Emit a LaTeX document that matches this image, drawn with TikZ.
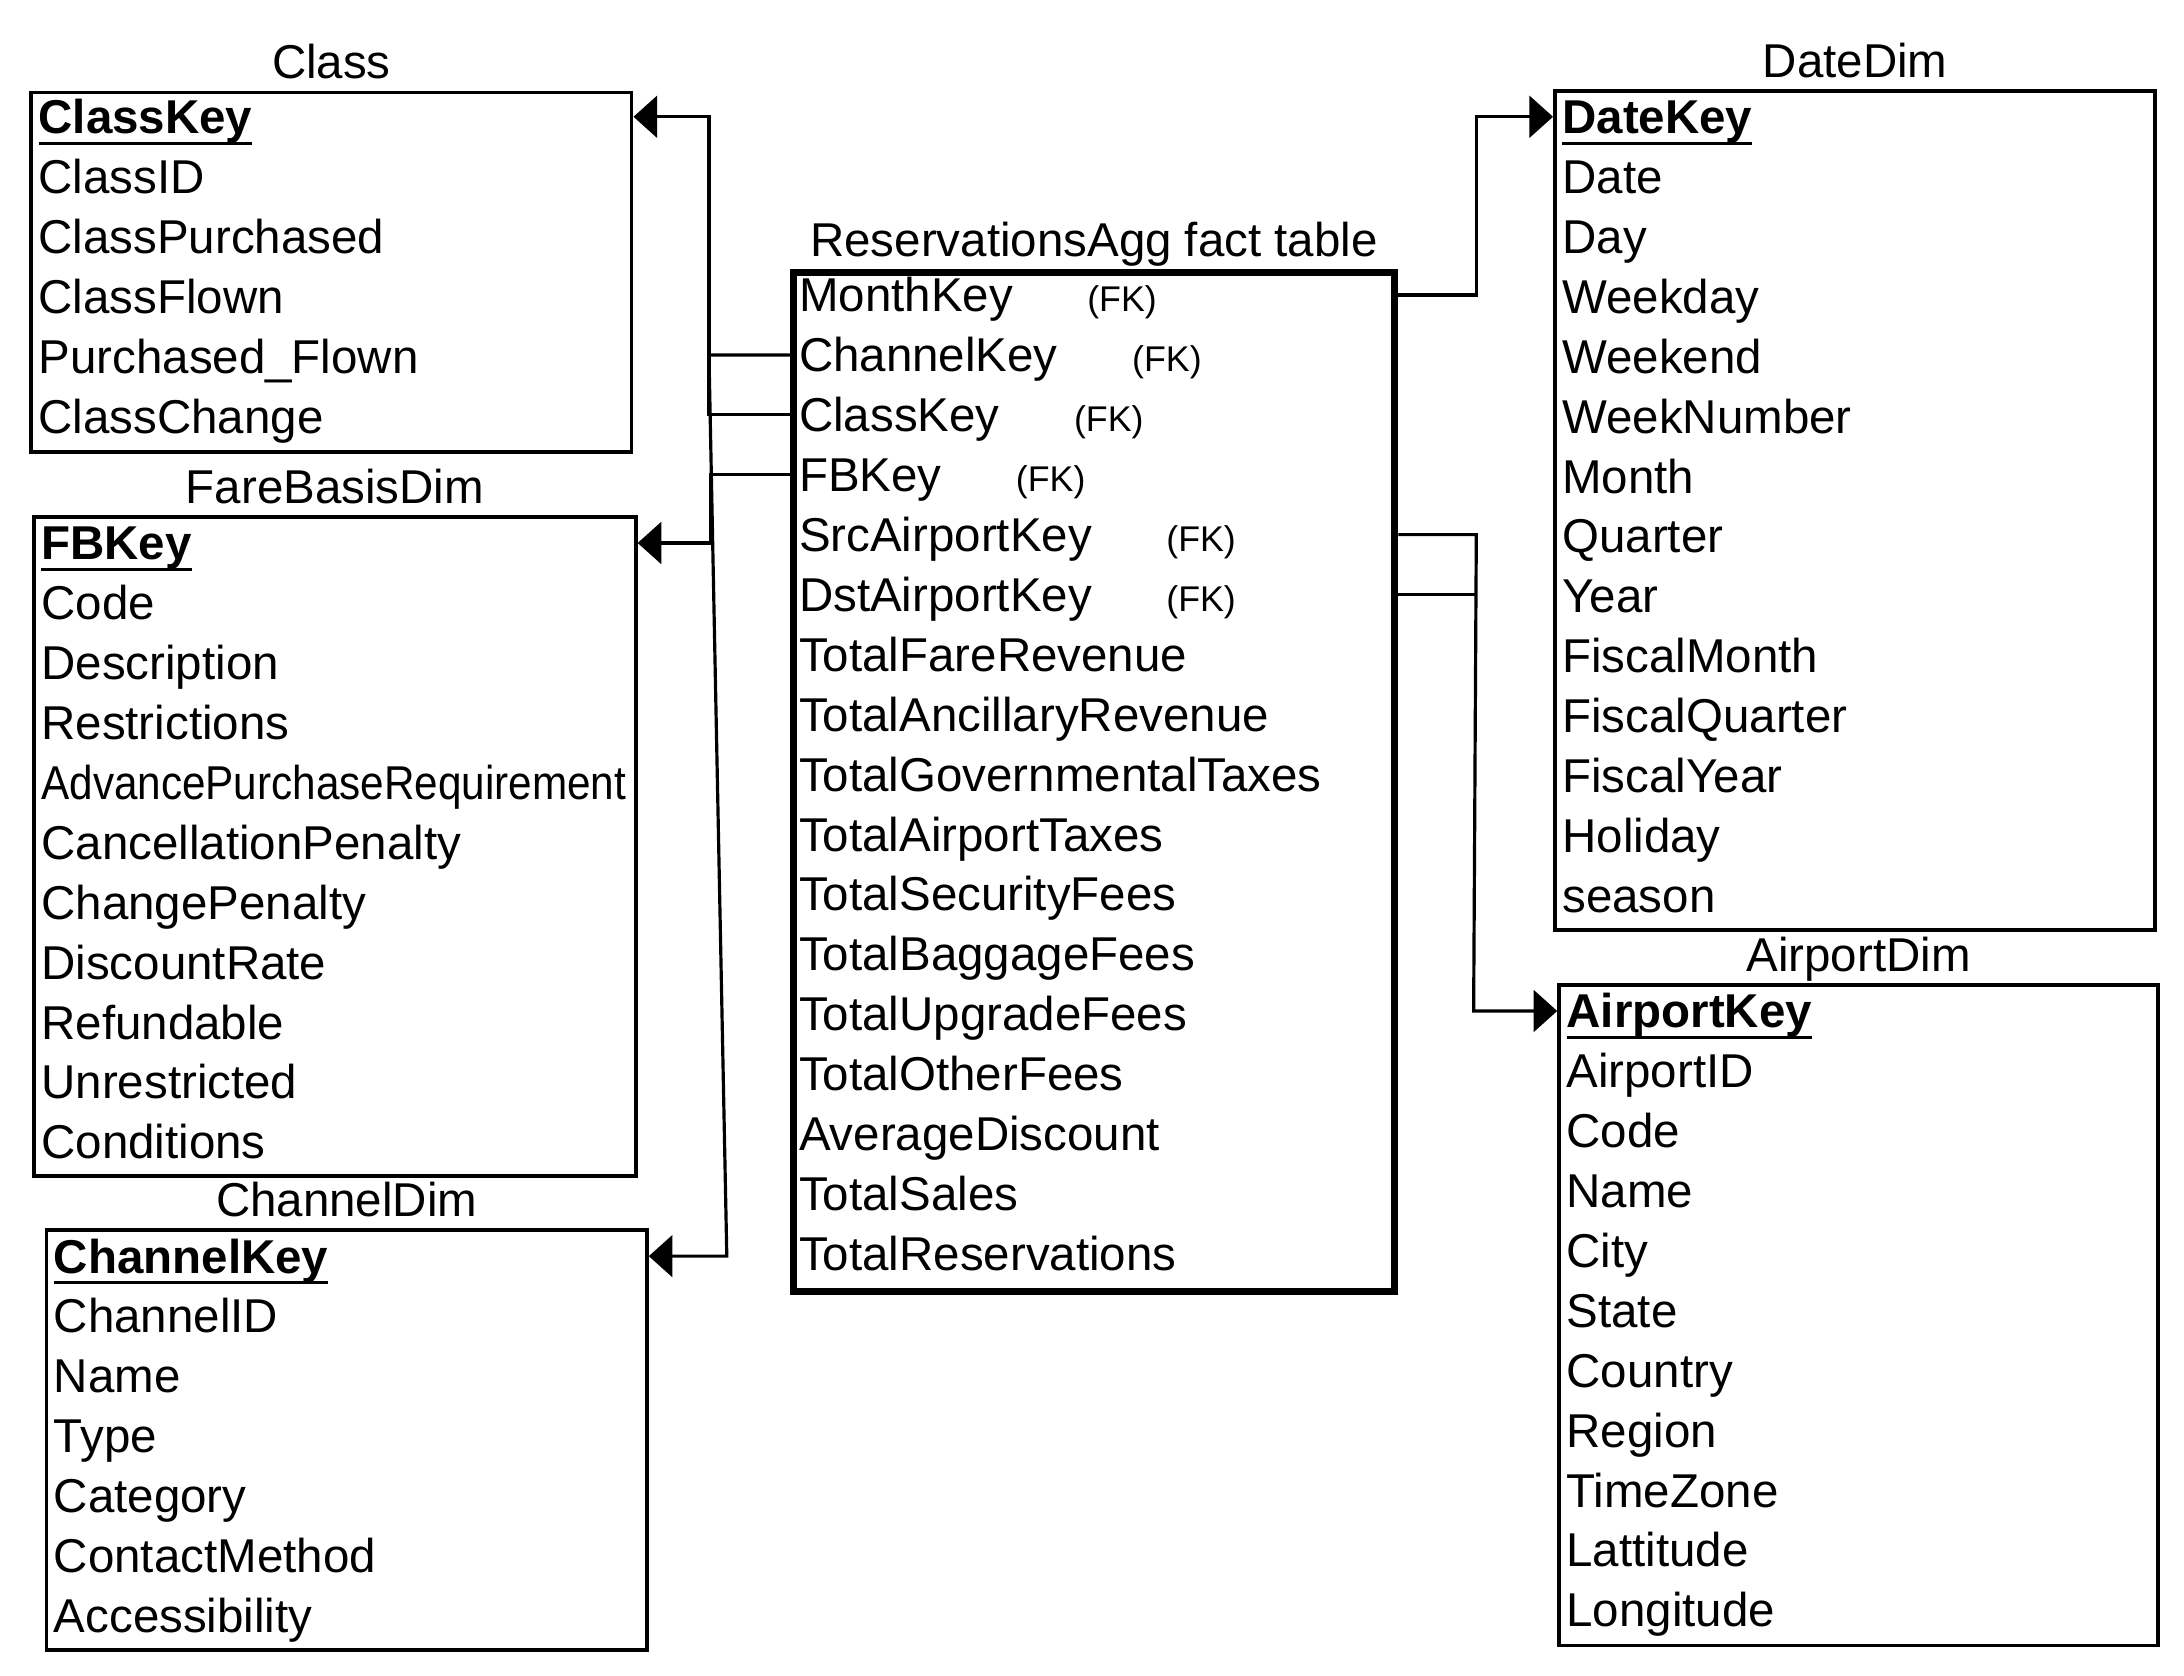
\documentclass[tikz,border=0pt]{standalone}
\usepackage{fontspec}
\setmainfont{Liberation Sans}
\newfontfamily\narrowfont[FakeStretch=0.89]{Liberation Sans}
\usepackage{tikz}
\usetikzlibrary{arrows.meta,calc,positioning}
\newcommand\keyfield[1]{\setbox0\hbox{\textbf{#1}}\rlap{\usebox0}\rule[-.8mm]{\wd0}{.24mm}}

\begin{document}
\begin{tikzpicture}[x=.1mm,y=-.1mm,every node/.append style={font=\fontsize{9.7}{11}\selectfont,
                    inner sep=0},
    tbl/.style={draw,line width=.8pt,anchor=north west},
    row/.style={anchor=base west,text height=2.43mm,text depth=0},
    title/.style={text depth=0},
    fk/.style={font=\fontsize{7.3}{9}\selectfont,anchor=base west},
    link/.style={line width=.65pt},
    tip/.style={-{Triangle[length=1.7mm,width=3mm]}}]
    \useasboundingbox (0,0) rectangle (1568,1203);
    \node[tbl,minimum width=43.1mm,minimum height=25.8mm] (class) at (21,65) {};
    \node[tbl,minimum width=43.2mm,minimum height=47.3mm] (fare) at (23,370) {};
    \node[tbl,minimum width=43.1mm,minimum height=30.1mm] (chan) at (32,882) {};
    \node[tbl,line width=1.4pt,minimum width=43.2mm,minimum height=73.2mm] (fact) at (567,193) {};
    \node[tbl,minimum width=43.1mm,minimum height=60.2mm] (date) at (1115,64) {};
    \node[tbl,minimum width=43.0mm,minimum height=47.4mm] (air) at (1118,706) {};
    \node[title,above=.8mm of class] (class-t) {Class};
    \node[title,above=.8mm of fare] (fare-t) {FareBasisDim};
    \node[title,above=.8mm of chan] (chan-t) {ChannelDim};
    \node[title,above=.8mm of fact] (fact-t) {ReservationsAgg fact table};
    \node[title,above=.8mm of date] (date-t) {DateDim};
    \node[title,above=.8mm of air] (air-t) {AirportDim};
    \node[row] (class-key) at (27,96) {\keyfield{ClassKey}};
    \node[row] (class-id) at (27,139) {ClassID};
    \node[row] (class-pur) at (27,182) {ClassPurchased};
    \node[row] (class-flo) at (27,225) {ClassFlown};
    \node[row] (class-pf) at (27,268) {Purchased\_Flown};
    \node[row] (class-chg) at (27,311) {ClassChange};
    \node[row] (fare-key) at (29,402) {\keyfield{FBKey}};
    \node[row] (fare-code) at (29,445) {Code};
    \node[row] (fare-desc) at (29,488) {Description};
    \node[row] (fare-res) at (29,531) {Restrictions};
    \node[row] (fare-adv) at (29,574) {\narrowfont AdvancePurchaseRequirement};
    \node[row] (fare-can) at (29,617) {CancellationPenalty};
    \node[row] (fare-chg) at (29,660) {ChangePenalty};
    \node[row] (fare-disc) at (29,703) {DiscountRate};
    \node[row] (fare-ref) at (29,746) {Refundable};
    \node[row] (fare-unr) at (29,789) {Unrestricted};
    \node[row] (fare-cond) at (29,832) {Conditions};
    \node[row] (chan-key) at (38,914) {\keyfield{ChannelKey}};
    \node[row] (chan-id) at (38,957) {ChannelID};
    \node[row] (chan-name) at (38,1000) {Name};
    \node[row] (chan-type) at (38,1043) {Type};
    \node[row] (chan-cat) at (38,1086) {Category};
    \node[row] (chan-con) at (38,1129) {ContactMethod};
    \node[row] (chan-acc) at (38,1172) {Accessibility};
    \node[row] (fact-month) at (573,224) {MonthKey};
    \node[row] (fact-chan) at (573,267) {ChannelKey};
    \node[row] (fact-class) at (573,310) {ClassKey};
    \node[row] (fact-fb) at (573,353) {FBKey};
    \node[row] (fact-src) at (573,396) {SrcAirportKey};
    \node[row] (fact-dst) at (573,439) {DstAirportKey};
    \node[row] (fact-fare) at (573,482) {TotalFareRevenue};
    \node[row] (fact-anc) at (573,525) {TotalAncillaryRevenue};
    \node[row] (fact-gov) at (573,568) {TotalGovernmentalTaxes};
    \node[row] (fact-apt) at (573,611) {TotalAirportTaxes};
    \node[row] (fact-sec) at (573,654) {TotalSecurityFees};
    \node[row] (fact-bag) at (573,697) {TotalBaggageFees};
    \node[row] (fact-upg) at (573,740) {TotalUpgradeFees};
    \node[row] (fact-oth) at (573,783) {TotalOtherFees};
    \node[row] (fact-avg) at (573,826) {AverageDiscount};
    \node[row] (fact-sales) at (573,869) {TotalSales};
    \node[row] (fact-res) at (573,912) {TotalReservations};
    \node[fk,right=5.2mm of fact-month.base east,anchor=base west] (fk-month) {(FK)};
    \node[fk,right=5.2mm of fact-chan.base east,anchor=base west] (fk-chan) {(FK)};
    \node[fk,right=5.2mm of fact-class.base east,anchor=base west] (fk-class) {(FK)};
    \node[fk,right=5.2mm of fact-fb.base east,anchor=base west] (fk-fb) {(FK)};
    \node[fk,right=5.2mm of fact-src.base east,anchor=base west] (fk-src) {(FK)};
    \node[fk,right=5.2mm of fact-dst.base east,anchor=base west] (fk-dst) {(FK)};
    \node[row] (date-key) at (1121,96) {\keyfield{DateKey}};
    \node[row] (date-date) at (1121,139) {Date};
    \node[row] (date-day) at (1121,182) {Day};
    \node[row] (date-wday) at (1121,225) {Weekday};
    \node[row] (date-wend) at (1121,268) {Weekend};
    \node[row] (date-wnum) at (1121,311) {WeekNumber};
    \node[row] (date-month) at (1121,354) {Month};
    \node[row] (date-qtr) at (1121,397) {Quarter};
    \node[row] (date-year) at (1121,440) {Year};
    \node[row] (date-fmon) at (1121,483) {FiscalMonth};
    \node[row] (date-fqtr) at (1121,526) {FiscalQuarter};
    \node[row] (date-fyear) at (1121,569) {FiscalYear};
    \node[row] (date-hol) at (1121,612) {Holiday};
    \node[row] (date-sea) at (1121,655) {season};
    \node[row] (air-key) at (1124,738) {\keyfield{AirportKey}};
    \node[row] (air-id) at (1124,781) {AirportID};
    \node[row] (air-code) at (1124,824) {Code};
    \node[row] (air-name) at (1124,867) {Name};
    \node[row] (air-city) at (1124,910) {City};
    \node[row] (air-state) at (1124,953) {State};
    \node[row] (air-cty) at (1124,996) {Country};
    \node[row] (air-reg) at (1124,1039) {Region};
    \node[row] (air-tz) at (1124,1082) {TimeZone};
    \node[row] (air-lat) at (1124,1125) {Lattitude};
    \node[row] (air-lon) at (1124,1168) {Longitude};
    \draw[link,tip] (fact.west |- fact-class) -- ++(-58,0) |- (class.east |- class-key);
    \draw[link,tip] (fact.west |- fact-fb) -- ++(-57,0) |- (fare.east |- fare-key);
    \draw[link,tip] (fact.west |- fact-chan) -- ++(-58,0) -- ($(chan.east |- chan-key)+(56,0)$)
        -- (chan.east |- chan-key);
    \draw[link,tip] (fact.east |- fact-month) -- ++(56,0) |- (date.west |- date-key);
    \draw[link,tip] (fact.east |- fact-src) -- ++(56,0) -- ($(air.west |- air-key)+(-60,0)$)
        -- (air.west |- air-key);
    \draw[link] (fact.east |- fact-dst) -- ++(56,0);
\end{tikzpicture}
\end{document}
